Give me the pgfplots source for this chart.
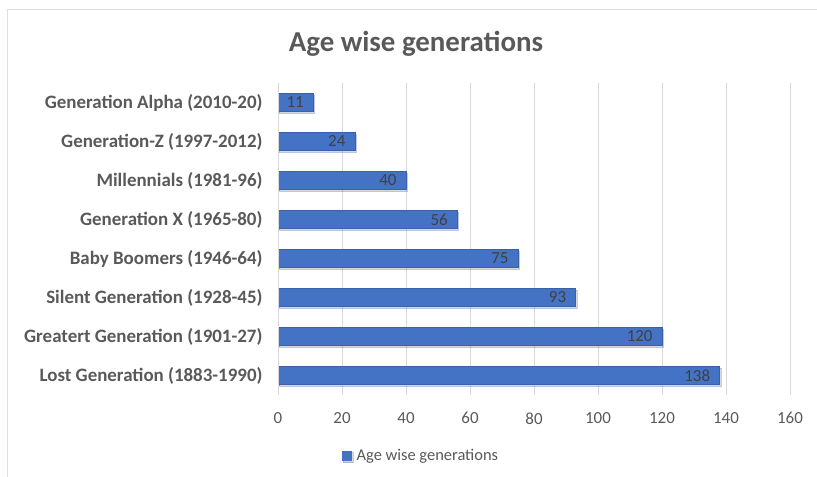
\documentclass[border=0pt]{standalone}
\usepackage{fontspec}
\setmainfont{Carlito}
\usepackage{pgfplots}
\pgfplotsset{compat=1.18}
\usetikzlibrary{shadows}
\definecolor{barblue}{HTML}{4472C4}
\definecolor{txtgray}{HTML}{595959}
\definecolor{lblgray}{HTML}{404040}
\definecolor{gridgray}{HTML}{D9D9D9}
\begin{document}
\begin{tikzpicture}[x=1bp,y=1bp]
\path[use as bounding box] (0,0) rectangle (817,477);
\draw[gray!25, line width=0.8bp] (7,-5) rectangle (830,468);
\node[text=txtgray, font=\fontsize{29}{34}\selectfont\bfseries] at (416,433) {Age wise generations};
\begin{axis}[
  at={(278bp,82bp)}, anchor=south west,
  scale only axis, width=512bp, height=312bp,
  xbar, bar width=18bp,
  xmin=0, xmax=160, ymin=-0.5, ymax=7.5,
  xtick={0,20,...,160},
  ytick={0,...,7},
  yticklabels={Lost Generation (1883-1990),Greatert Generation (1901-27),Silent Generation (1928-45),Baby Boomers (1946-64),Generation X (1965-80),Millennials (1981-96),Generation-Z (1997-2012),Generation Alpha (2010-20)},
  /pgf/number format/assume math mode=true,
  xmajorgrids, major grid style={gridgray, line width=0.8bp},
  axis line style={draw=none},
  axis y line*=left, axis x line*=bottom,
  major tick length=0pt,
  ticklabel style={text=txtgray},
  yticklabel style={font=\fontsize{19}{22}\selectfont\bfseries, xshift=-12bp},
  xticklabel style={font=\fontsize{17}{20}\selectfont, yshift=-14bp},
  nodes near coords,
  every node near coord/.append style={anchor=east, text=lblgray, font=\fontsize{17}{20}\selectfont, xshift=-6bp},
  legend style={at={(0.279,-0.195)}, anchor=center, draw=none, font=\fontsize{16.5}{19}\selectfont, text=txtgray},
  legend image code/.code={\fill[barblue, draw=none] (0bp,-5bp) rectangle (10bp,5bp);},
]
\addplot[draw=barblue!85!black, line width=0.3bp, fill=barblue,
  drop shadow={opacity=0.3, shadow xshift=1.2bp, shadow yshift=-1.8bp}]
  coordinates {(138,0) (120,1) (93,2) (75,3) (56,4) (40,5) (24,6) (11,7)};
\addlegendentry{\hspace{3bp}Age wise generations}
\draw[gridgray, line width=1bp] (axis cs:0,-0.5) -- (axis cs:0,7.5);
\end{axis}
\end{tikzpicture}
\end{document}
